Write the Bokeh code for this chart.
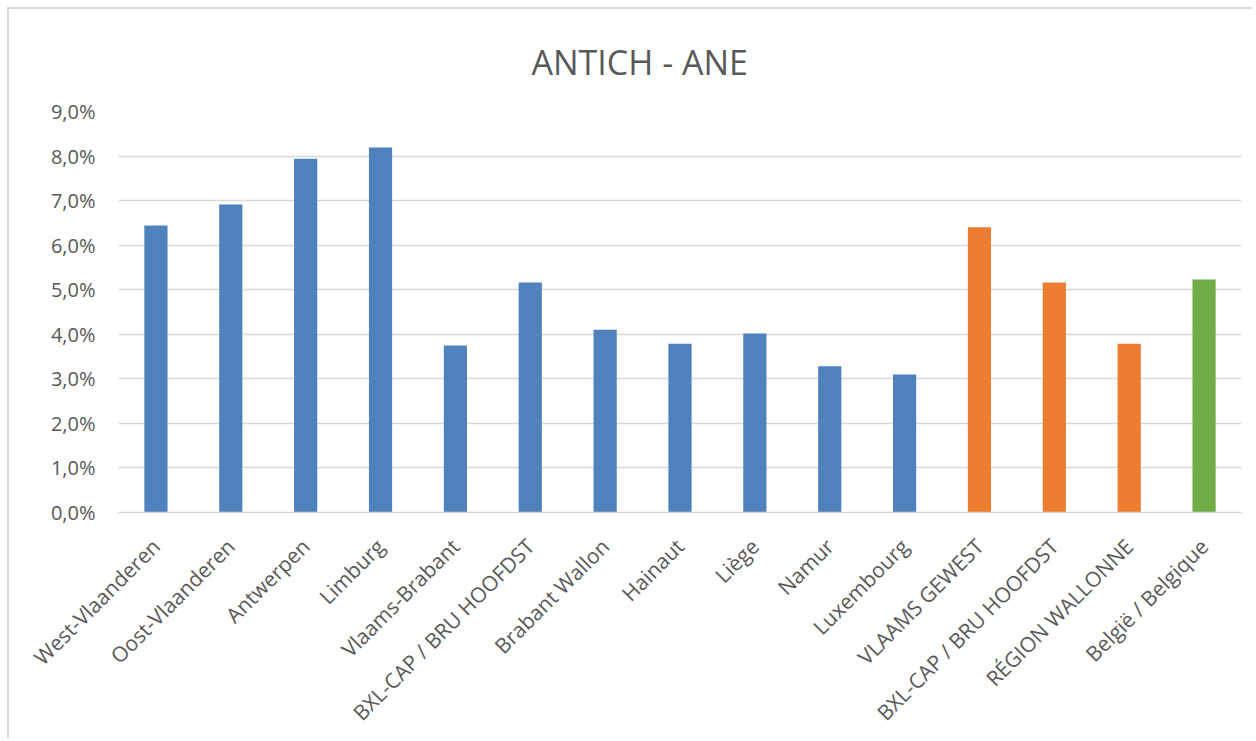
from math import pi
from bokeh.plotting import figure
from bokeh.models import Range1d, FixedTicker, ColumnDataSource
from bokeh.embed import file_html
from bokeh.resources import INLINE

title_text = "ANTICH - ANE"
categories = [
    "West-Vlaanderen", "Oost-Vlaanderen", "Antwerpen", "Limburg", "Vlaams-Brabant",
    "BXL-CAP / BRU HOOFDST", "Brabant Wallon", "Hainaut", "Liège", "Namur",
    "Luxembourg", "VLAAMS GEWEST", "BXL-CAP / BRU HOOFDST", "RÉGION WALLONNE",
    "België / Belgique",
]
values = [6.44, 6.91, 7.94, 8.19, 3.75, 5.16, 4.10, 3.79, 4.02, 3.28, 3.10, 6.40, 5.16, 3.79, 5.23]
groups = ["province"] * 11 + ["region"] * 3 + ["country"]
group_colors = {"province": "#4F81BD", "region": "#ED7D31", "country": "#70AD47"}
y_ticks = [0, 1, 2, 3, 4, 5, 6, 7, 8, 9]
y_tick_labels = ["0,0%", "1,0%", "2,0%", "3,0%", "4,0%", "5,0%", "6,0%", "7,0%", "8,0%", "9,0%"]

xs = list(range(len(categories)))
src = ColumnDataSource(dict(x=xs, top=values, color=[group_colors[g] for g in groups]))

FONT = "Open Sans"
TXT = "#595959"
GRID = "#D9D9D9"

p = figure(width=1245, height=731, output_backend="svg", toolbar_location=None,
           x_range=Range1d(-0.5, len(categories) - 0.5), y_range=Range1d(0, 9),
           min_border_left=109, min_border_right=13, min_border_top=102, min_border_bottom=228,
           title=title_text,
           styles={"margin-left": "7px", "margin-top": "7px",
                   "border-top": "2px solid #D9D9D9", "border-left": "2px solid #D9D9D9"})
p.vbar(x="x", top="top", width=0.31, color="color", source=src, line_color=None)

p.title.align = "left"
p.title.text_font = FONT
p.title.text_font_size = "34px"
p.title.text_font_style = "normal"
p.title.text_color = TXT
p.title.offset = 413
p.title.standoff = 54

p.outline_line_color = None
p.xgrid.grid_line_color = None
p.ygrid.grid_line_color = GRID
p.ygrid.grid_line_width = 1.5
p.ygrid.ticker = FixedTicker(ticks=y_ticks)

p.yaxis.ticker = FixedTicker(ticks=y_ticks)
p.yaxis.major_label_overrides = {t: l for t, l in zip(y_ticks, y_tick_labels)}
p.yaxis.axis_line_color = None
p.yaxis.major_tick_line_color = None
p.yaxis.minor_tick_line_color = None
p.yaxis.major_label_standoff = 17
p.yaxis.major_label_text_font = FONT
p.yaxis.major_label_text_font_size = "20px"
p.yaxis.major_label_text_color = TXT

p.xaxis.ticker = FixedTicker(ticks=xs)
p.xaxis.major_label_overrides = {x: c for x, c in zip(xs, categories)}
p.xaxis.axis_line_color = GRID
p.xaxis.axis_line_width = 1.5
p.xaxis.major_tick_line_color = None
p.xaxis.minor_tick_line_color = None
p.xaxis.major_label_orientation = pi / 4
p.xaxis.major_label_standoff = 24
p.xaxis.major_label_text_font = FONT
p.xaxis.major_label_text_font_size = "21px"
p.xaxis.major_label_text_color = TXT

open("out.html", "w").write(file_html(p, INLINE))
